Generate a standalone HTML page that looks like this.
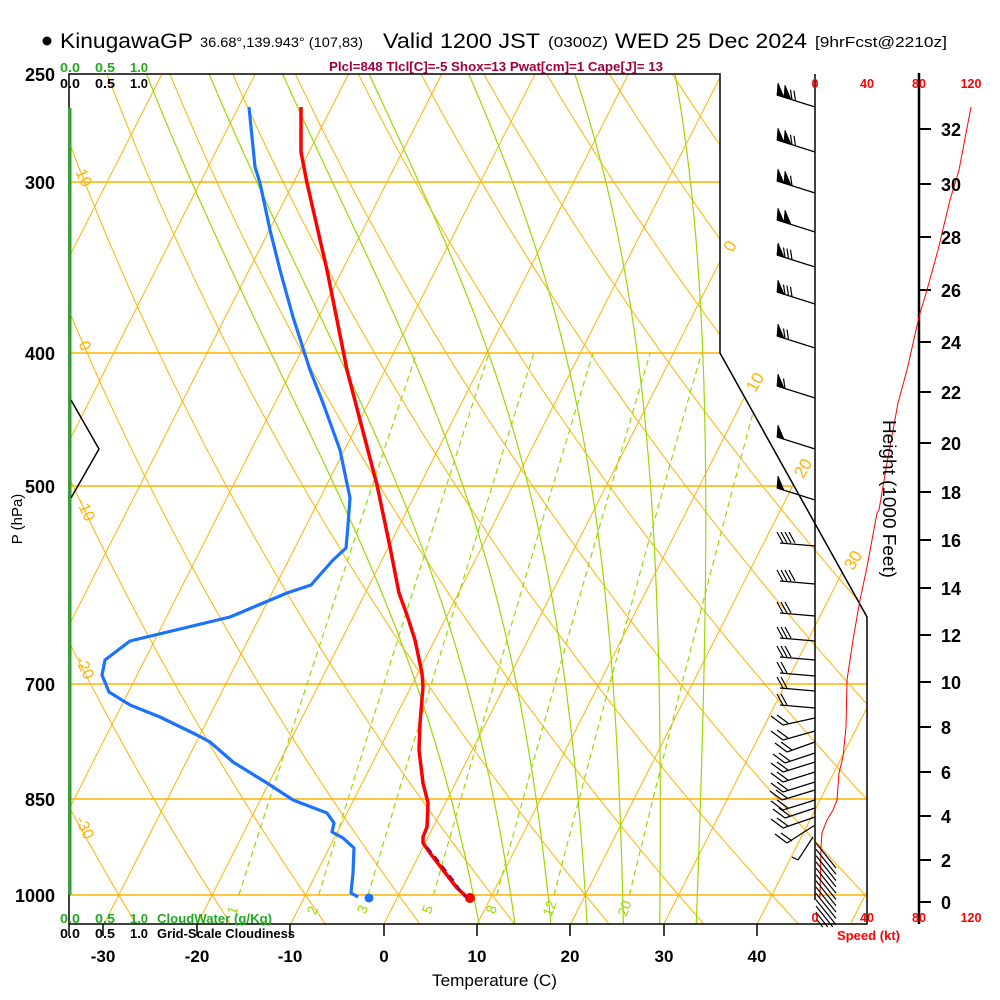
<!DOCTYPE html>
<html><head><meta charset="utf-8">
<style>
html,body{margin:0;padding:0;background:#fff;}
svg{display:block;}
text{font-family:"Liberation Sans",Arial,sans-serif;}
</style></head><body>
<svg id="s" width="1000" height="1000" viewBox="0 0 1000 1000" xmlns="http://www.w3.org/2000/svg">
<rect width="1000" height="1000" fill="#fff"/>
<defs><clipPath id="cp"><polygon points="69,74 720,74 720,353 867,617 867,924 69,924"/></clipPath></defs>
<g clip-path="url(#cp)" fill="none">
  <g stroke="#ffb300" stroke-width="1">
    <line x1="-269.1" y1="924" x2="161.9" y2="74"/>
    <line x1="-175.8" y1="924" x2="255.2" y2="74"/>
    <line x1="-82.5" y1="924" x2="348.5" y2="74"/>
    <line x1="10.8" y1="924" x2="441.8" y2="74"/>
    <line x1="104.1" y1="924" x2="535.1" y2="74"/>
    <line x1="197.4" y1="924" x2="628.4" y2="74"/>
    <line x1="290.7" y1="924" x2="721.7" y2="74"/>
    <line x1="384" y1="924" x2="815" y2="74"/>
    <line x1="477.3" y1="924" x2="908.3" y2="74"/>
    <line x1="570.6" y1="924" x2="1001.6" y2="74"/>
    <line x1="663.9" y1="924" x2="1094.9" y2="74"/>
    <line x1="757.2" y1="924" x2="1188.2" y2="74"/>
    <line x1="850.5" y1="924" x2="1281.5" y2="74"/>
  </g>
  <g id="dry" stroke="#ffb300" stroke-width="1"></g>
  <g id="moist" stroke="#99d900" stroke-width="1.2"></g>
  <g id="mix" stroke="#99d900" stroke-width="1.2" stroke-dasharray="6,4"></g>
  <g stroke="#ffb300" stroke-width="1.5">
    <line x1="69" y1="182" x2="870" y2="182"/>
    <line x1="69" y1="353" x2="870" y2="353"/>
    <line x1="69" y1="486" x2="870" y2="486"/>
    <line x1="69" y1="684" x2="870" y2="684"/>
    <line x1="69" y1="799" x2="870" y2="799"/>
    <line x1="69" y1="895" x2="870" y2="895"/>
  </g>
</g>

<!-- frame -->
<g fill="none" stroke="#000" stroke-width="1.5">
  <polyline points="69,924 69,74 720,74 720,353 867,617 867,924 69,924"/>
  <line x1="815" y1="74" x2="815" y2="900"/>
  <line x1="69" y1="924" x2="69" y2="936"/>
  <line x1="103" y1="924" x2="103" y2="936"/>
  <line x1="197" y1="924" x2="197" y2="936"/>
  <line x1="290" y1="924" x2="290" y2="936"/>
  <line x1="384" y1="924" x2="384" y2="936"/>
  <line x1="477" y1="924" x2="477" y2="936"/>
  <line x1="570" y1="924" x2="570" y2="936"/>
  <line x1="664" y1="924" x2="664" y2="936"/>
  <line x1="757" y1="924" x2="757" y2="936"/>
</g>
<line x1="919" y1="73" x2="919" y2="924" stroke="#000" stroke-width="2.5"/>
<g stroke="#000" stroke-width="2">
  <line x1="919" y1="129" x2="931" y2="129"/><line x1="919" y1="184" x2="931" y2="184"/>
  <line x1="919" y1="237" x2="931" y2="237"/><line x1="919" y1="290" x2="931" y2="290"/>
  <line x1="919" y1="342" x2="931" y2="342"/><line x1="919" y1="392" x2="931" y2="392"/>
  <line x1="919" y1="443" x2="931" y2="443"/><line x1="919" y1="492" x2="931" y2="492"/>
  <line x1="919" y1="540" x2="931" y2="540"/><line x1="919" y1="588" x2="931" y2="588"/>
  <line x1="919" y1="635" x2="931" y2="635"/><line x1="919" y1="682" x2="931" y2="682"/>
  <line x1="919" y1="727" x2="931" y2="727"/><line x1="919" y1="772" x2="931" y2="772"/>
  <line x1="919" y1="816" x2="931" y2="816"/><line x1="919" y1="860" x2="931" y2="860"/>
  <line x1="919" y1="902" x2="931" y2="902"/>
</g>

<!-- left cloud water line and zigzag -->
<line x1="70" y1="108" x2="70" y2="895" stroke="#22aa22" stroke-width="3"/>
<polyline points="71,400 99,449 71,498" fill="none" stroke="#000" stroke-width="1.5"/>

<!-- speed profile -->
<polyline fill="none" stroke="#ff0000" stroke-width="1" points="971,107 959,170 950,200 938,250 927,290 919,317 907,370 898,403 887,463 879,510 877,513 867,567 860,600 853,640 847,680 846,727 843,757 839,773 837,800 833,810 827,820 822,833 821,847 820,897"/>

<!-- wind barbs -->
<g id="barbs" stroke="#000" stroke-width="1.2" fill="none"></g>

<!-- profiles -->
<polyline fill="none" stroke="#1a72ff" stroke-width="3.2" stroke-linejoin="round" points="249,107 252,137 255,167 260,183 270,230 280,270 293,317 310,370 323,403 340,450 350,498 348,525 346,548 333,560 311,585 287,593 230,617 130,641 105,660 102,675 109,692 130,705 160,717 197,735 210,742 233,762 267,783 293,800 327,813 334,823 332,832 343,838 354,848 353,873 351,893 358,897"/>
<circle cx="369" cy="898" r="4.5" fill="#1a72ff"/>
<polyline fill="none" stroke="#ff0000" stroke-width="3.5" stroke-linejoin="round" points="301,107 301,152 307,183 327,270 347,370 360,420 377,485 390,547 399,593 407,615 415,640 422,673 423,687 420,723 419,750 423,783 428,803 427,827 423,837 423,843 430,853 443,870 457,888 467,897"/>
<polyline fill="none" stroke="#880055" stroke-width="2" stroke-dasharray="7,5" points="427,847 440,863 453,880 465,897"/>
<circle cx="470" cy="898" r="5" fill="#ff0000"/>

<!-- header -->
<circle cx="47" cy="41" r="4.5" fill="#000"/>
<text x="60" y="48" font-size="21" textLength="133" lengthAdjust="spacingAndGlyphs">KinugawaGP</text>
<text x="200" y="47" font-size="14" textLength="163" lengthAdjust="spacingAndGlyphs">36.68°,139.943° (107,83)</text>
<text x="383" y="48" font-size="21" textLength="157" lengthAdjust="spacingAndGlyphs">Valid 1200 JST</text>
<text x="548" y="47" font-size="15" textLength="60" lengthAdjust="spacingAndGlyphs">(0300Z)</text>
<text x="615" y="48" font-size="21" textLength="192" lengthAdjust="spacingAndGlyphs">WED 25 Dec 2024</text>
<text x="815" y="47" font-size="15" textLength="132" lengthAdjust="spacingAndGlyphs">[9hrFcst@2210z]</text>
<text x="329" y="71" font-size="13" font-weight="bold" fill="#a0003c" textLength="334" lengthAdjust="spacingAndGlyphs">Plcl=848 Tlcl[C]=-5 Shox=13 Pwat[cm]=1 Cape[J]= 13</text>

<g font-size="12.5" font-weight="bold" fill="#22aa22">
  <text x="60" y="72" textLength="20" lengthAdjust="spacingAndGlyphs">0.0</text>
  <text x="95" y="72" textLength="20" lengthAdjust="spacingAndGlyphs">0.5</text>
  <text x="130" y="72" textLength="18" lengthAdjust="spacingAndGlyphs">1.0</text>
  <text x="60" y="923" textLength="20" lengthAdjust="spacingAndGlyphs">0.0</text>
  <text x="95" y="923" textLength="20" lengthAdjust="spacingAndGlyphs">0.5</text>
  <text x="130" y="923" textLength="18" lengthAdjust="spacingAndGlyphs">1.0</text>
  <text x="157" y="923" textLength="115" lengthAdjust="spacingAndGlyphs">CloudWater (g/Kg)</text>
</g>
<g font-size="12.5" font-weight="bold" fill="#000">
  <text x="60" y="88" textLength="20" lengthAdjust="spacingAndGlyphs">0.0</text>
  <text x="95" y="88" textLength="20" lengthAdjust="spacingAndGlyphs">0.5</text>
  <text x="130" y="88" textLength="18" lengthAdjust="spacingAndGlyphs">1.0</text>
  <text x="60" y="938" textLength="20" lengthAdjust="spacingAndGlyphs">0.0</text>
  <text x="95" y="938" textLength="20" lengthAdjust="spacingAndGlyphs">0.5</text>
  <text x="130" y="938" textLength="18" lengthAdjust="spacingAndGlyphs">1.0</text>
  <text x="157" y="938" textLength="138" lengthAdjust="spacingAndGlyphs">Grid-Scale Cloudiness</text>
</g>

<!-- pressure labels -->
<g font-size="18" font-weight="bold" text-anchor="end" fill="#000">
  <text x="55" y="81">250</text>
  <text x="55" y="189">300</text>
  <text x="55" y="360">400</text>
  <text x="55" y="493">500</text>
  <text x="55" y="691">700</text>
  <text x="55" y="806">850</text>
  <text x="55" y="902">1000</text>
</g>
<text transform="translate(22,519) rotate(-90)" text-anchor="middle" font-size="15">P (hPa)</text>

<!-- temperature labels -->
<g font-size="17" font-weight="bold" text-anchor="middle" fill="#000">
  <text x="103" y="962">-30</text>
  <text x="197" y="962">-20</text>
  <text x="290" y="962">-10</text>
  <text x="384" y="962">0</text>
  <text x="477" y="962">10</text>
  <text x="570" y="962">20</text>
  <text x="664" y="962">30</text>
  <text x="757" y="962">40</text>
</g>
<text x="432" y="986" font-size="17" textLength="125" lengthAdjust="spacingAndGlyphs">Temperature (C)</text>

<!-- speed labels -->
<g font-size="12.5" font-weight="bold" fill="#ff0000" text-anchor="middle">
  <text x="815" y="88">0</text><text x="867" y="88">40</text><text x="919" y="88">80</text><text x="971" y="88">120</text>
  <text x="815" y="922">0</text><text x="867" y="922">40</text><text x="919" y="922">80</text><text x="971" y="922">120</text>
</g>
<text x="837" y="940" font-size="13" font-weight="bold" fill="#ff0000" textLength="63" lengthAdjust="spacingAndGlyphs">Speed (kt)</text>

<!-- height labels -->
<g font-size="18" font-weight="bold" fill="#000">
  <text x="941" y="136">32</text><text x="941" y="191">30</text><text x="941" y="244">28</text>
  <text x="941" y="297">26</text><text x="941" y="349">24</text><text x="941" y="399">22</text>
  <text x="941" y="450">20</text><text x="941" y="499">18</text><text x="941" y="547">16</text>
  <text x="941" y="595">14</text><text x="941" y="642">12</text><text x="941" y="689">10</text>
  <text x="941" y="734">8</text><text x="941" y="779">6</text><text x="941" y="823">4</text>
  <text x="941" y="867">2</text><text x="941" y="909">0</text>
</g>
<text transform="translate(883,499) rotate(90)" text-anchor="middle" font-size="18" textLength="158" lengthAdjust="spacingAndGlyphs">Height (1000 Feet)</text>

<!-- dry adiabat labels (left) -->
<g font-size="16" fill="#ffb300" text-anchor="middle">
  <text transform="translate(79,180) rotate(65)">10</text>
  <text transform="translate(80,348) rotate(65)">0</text>
  <text transform="translate(81,512) rotate(65)">-10</text>
  <text transform="translate(80,670) rotate(65)">-20</text>
  <text transform="translate(80,830) rotate(65)">-30</text>
</g>
<!-- isotherm labels (right) -->
<g font-size="17" fill="#ffb300" text-anchor="middle">
  <text transform="translate(735,249) rotate(-60)">0</text>
  <text transform="translate(760,385) rotate(-60)">10</text>
  <text transform="translate(808,471) rotate(-60)">20</text>
  <text transform="translate(858,563) rotate(-60)">30</text>
</g>
<!-- mixing ratio labels -->
<g font-size="14" fill="#99d900" text-anchor="middle">
  <text transform="translate(237,912) rotate(-70)">1</text>
  <text transform="translate(317,912) rotate(-70)">2</text>
  <text transform="translate(367,911) rotate(-70)">3</text>
  <text transform="translate(432,911) rotate(-70)">5</text>
  <text transform="translate(496,911) rotate(-70)">8</text>
  <text transform="translate(554,910) rotate(-70)">12</text>
  <text transform="translate(629,910) rotate(-70)">20</text>
</g>
</svg>
<script>
(function(){
var NS="http://www.w3.org/2000/svg";
function Y(p){return 74+592.2*Math.log(p/250);}
function X(T,y){return 384+9.33*T+0.507*(924-y);}
function add(g,pts){var d="";for(var i=0;i<pts.length;i++){d+=(i?"L":"M")+pts[i][0].toFixed(1)+","+pts[i][1].toFixed(1);}var e=document.createElementNS(NS,"path");e.setAttribute("d",d);g.appendChild(e);}
function line(g,x1,y1,x2,y2){var e=document.createElementNS(NS,"line");e.setAttribute("x1",x1);e.setAttribute("y1",y1);e.setAttribute("x2",x2);e.setAttribute("y2",y2);g.appendChild(e);}
function poly(g,pts){var e=document.createElementNS(NS,"polygon");e.setAttribute("points",pts.map(function(a){return a[0].toFixed(1)+","+a[1].toFixed(1);}).join(" "));e.setAttribute("fill","#000");e.setAttribute("stroke","#000");e.setAttribute("stroke-width","0.8");g.appendChild(e);}
var dry=document.getElementById("dry");
for(var th=-60;th<=220;th+=10){var pts=[];for(var p=1070;p>=240;p-=10){var T=(th+273.15)*Math.pow(p/1000,0.2857)-273.15;var y=Y(p);pts.push([X(T,y),y]);}add(dry,pts);}
function es(T){return 6.112*Math.exp(17.67*T/(T+243.5));}
function dTdp(p,Tc){var T=Tc+273.15;var e=es(Tc);var rs=0.622*e/(p-e);var Lv=2.501e6,Rd=287.04,cp=1005.7;return (Rd*T+Lv*rs)/(p*(cp+Lv*Lv*rs*0.622/(Rd*T*T)));}
var moist=document.getElementById("moist");
for(var tw=8;tw<=32;tw+=4){var dp=2,T=tw,p=1000,down=[];while(p<1070){T+=dTdp(p,T)*dp;p+=dp;down.push([p,T]);}down.reverse();var arr=down.concat([[1000,tw]]);T=tw;p=1000;while(p>240){var k1=dTdp(p,T);var k2=dTdp(p-dp/2,T-k1*dp/2);T-=k2*dp;p-=dp;arr.push([p,T]);}var pts=arr.map(function(a){var y=Y(a[0]);return [X(a[1],y),y];});add(moist,pts);}
var mix=document.getElementById("mix");
[1,2,3,5,8,12,20].forEach(function(w){var pts=[];for(var p=1000;p>=400;p-=10){var e=w*p/(622+w);var l=Math.log(e/6.112);var T=243.5*l/(17.67-l);var y=Y(p);pts.push([X(T,y),y]);}add(mix,pts);});
var b=document.getElementById("barbs");
var up=[[107,2,2],[152,2,2],[193,2,1],[232,2,0],[267,1,3],[304,1,3],[348,1,2],[398,1,1],[449,1,0],[500,1,0]];
up.forEach(function(a){var y0=a[0];function sy(d){return y0-12+12*d/38;}line(b,815,y0,777,y0-12);var d=0;for(var i=0;i<a[1];i++){poly(b,[[777+d,sy(d)],[784+d,sy(d+7)],[778+d,sy(d)-12]]);d+=7;}d+=1;for(var j=0;j<a[2];j++){line(b,777+d,sy(d),775.5+d,sy(d)-10);d+=3.5;}});
var low=[[546,4],[584,4],[616,3],[641,3],[660,3],[676,2],[691,2],[708,2]];
low.forEach(function(a){var y=a[0];line(b,815,y,780,y-3);for(var j=0;j<a[1];j++){line(b,777+4*j,y-14,783+4*j,y-3);}});
var chev=[[718,783,725],[731,783,740],[742,787,752],[753,785,763],[762,783,772],[772,783,782],[782,783,792],[790,782,800],[800,783,810],[808,785,818],[817,783,828],[825,787,843]];
chev.forEach(function(a){line(b,815,a[0],a[1],a[2]);line(b,a[1],a[2],a[1]-12,a[2]-9);line(b,a[1]+5,a[2]-2,a[1]-6,a[2]-10);});
line(b,813,837,798,860);line(b,798,860,792,857);
for(var k=0;k<13;k++){var ys=843+6.3*k;var ye=ys+25;if(ye>927)ye=927;var xe=816+20*(ye-ys)/25;line(b,816,ys,xe,ye);}
})();
</script>
</body></html>
